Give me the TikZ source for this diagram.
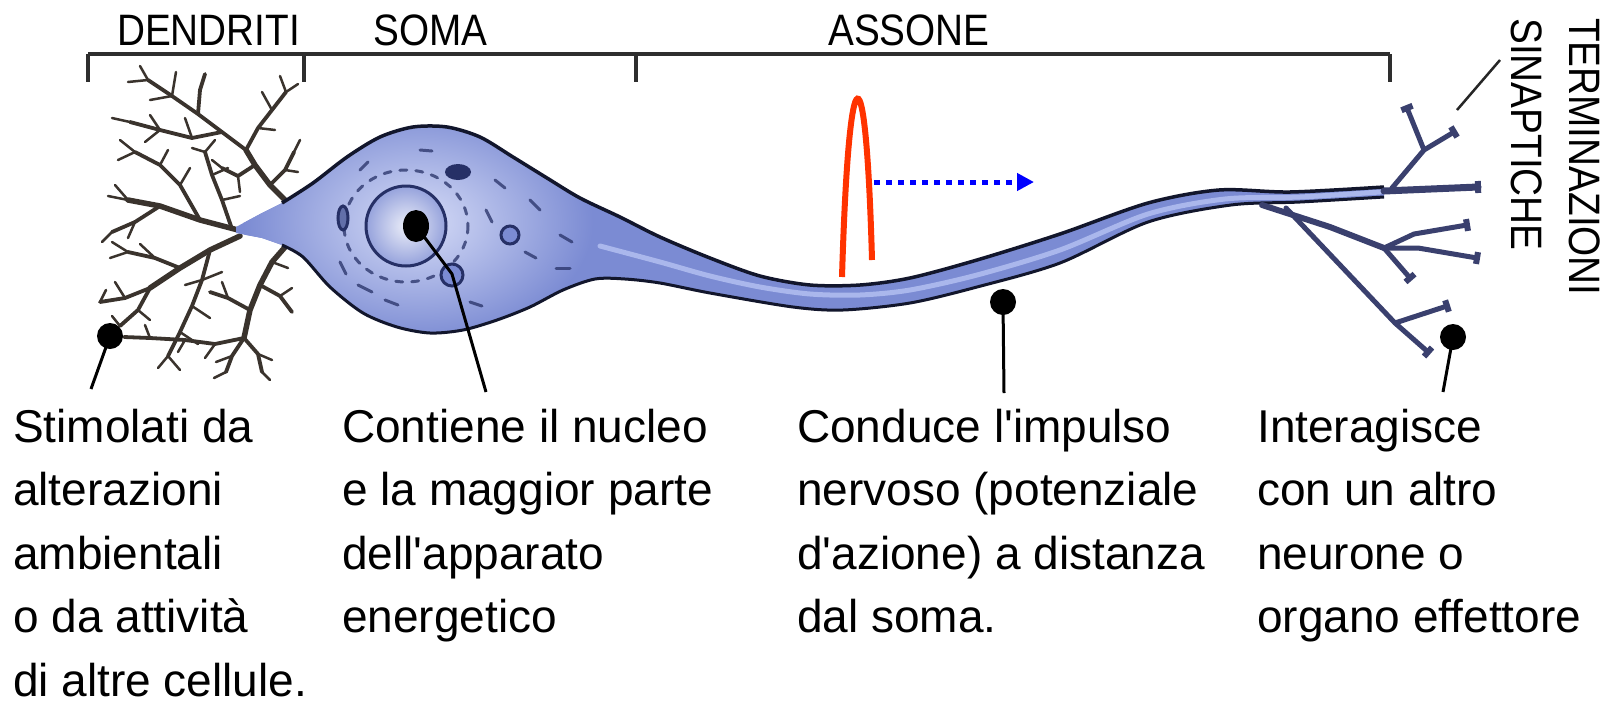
\documentclass[tikz,border=0pt]{standalone}
\usepackage{fontspec}
\setmainfont{Liberation Sans}[Ligatures=TeXOff]
\newfontfamily\headfont[FakeStretch=0.88]{Liberation Sans}
\usetikzlibrary{arrows.meta,shapes.geometric,calc}

\definecolor{somablue}{HTML}{7B8BD3}
\definecolor{somalight}{HTML}{D6DCF7}
\definecolor{cellline}{HTML}{12162C}
\definecolor{axonstripe}{HTML}{AAB7EC}
\definecolor{dendrite}{HTML}{3A332D}
\definecolor{terminal}{HTML}{3A406E}
\definecolor{organelle}{HTML}{263066}
\definecolor{spikered}{HTML}{FF3300}
\definecolor{bracketgray}{HTML}{2E2E2E}

% outline of soma and axon, one closed path
\def\cellbody{plot[smooth,tension=0.5] coordinates {(282,203) (313,183) (347,157) (380,137) (413,127) (447,127) (480,137) (513,157) (547,178) (580,198) (620,217) (660,237) (710,258) (760,276) (810,285) (860,285) (910,278) (977,260) (1060,234) (1148,203) (1219,190) (1290,192) (1384,187)}
  -- plot[smooth,tension=0.5] coordinates {(1384,197) (1300,202) (1231,205) (1148,222) (1060,263) (977,287) (910,303) (843,310) (793,307) (710,293) (660,283) (625,279) (595,279) (563,290) (530,307) (497,320) (463,330) (430,333) (397,327) (363,313) (330,287) (303,257) (282,245)}
  -- (262,238) -- (236,233) -- (236,227) -- (262,213) -- cycle}

\newcommand\termknob[2]{\draw[knob] ($(#1)!6pt!90:(#2)$) -- ($(#1)!6pt!-90:(#2)$);}

\begin{document}
\begin{tikzpicture}[x=1pt,y=-1pt,
  bodytext/.style={font=\fontsize{46}{63.5}\selectfont, align=left, inner sep=0pt, anchor=base west},
  headtext/.style={font=\headfont\fontsize{44}{44}\selectfont, inner sep=0pt, anchor=base west},
  pin/.style={circle, fill=black, inner sep=0pt, minimum size=26pt},
  nucleolus/.style={ellipse, fill=black, inner sep=0pt, minimum width=26pt, minimum height=32pt},
  pinline/.style={line width=3pt, black},
  bracket/.style={line width=4.5pt, bracketgray},
  dA/.style={dendrite, line width=5.5pt, line cap=round, line join=round},
  dB/.style={dendrite, line width=3.8pt, line cap=round, line join=round},
  dC/.style={dendrite, line width=2.5pt, line cap=round, line join=round},
  term/.style={terminal, line width=5pt, line cap=round, line join=round},
  knob/.style={terminal, line width=6pt},
  er/.style={organelle, line width=3pt, line cap=round, opacity=0.75},
]
\useasboundingbox (0,0) rectangle (1622,705);
\fill[white] (0,0) rectangle (1622,705);

% ---- header bracket ----
\coordinate (bk0) at (88,54);
\coordinate (bk1) at (304,54);
\coordinate (bk2) at (636,54);
\coordinate (bk3) at (1390,54);
\draw[bracket] (bk0) -- (bk3);
\foreach \b in {bk0,bk1,bk2,bk3} \draw[bracket] (\b) -- ++(0,28);
\node[headtext] (hdend) at (117,45) {DENDRITI};
\node[headtext] (hsoma) at (373,45) {SOMA};
\node[headtext] (hassone) at (828,45) {ASSONE};
\node[headtext, rotate=-90] (hterm) at (1569,18) {TERMINAZIONI};
\node[headtext, rotate=-90] (hsyn) at (1511,18) {SINAPTICHE};

% ---- dendritic tree ----
\draw[dA] (288,203) -- (270,185) -- (255,165) -- (246,150);
\draw[dA] (238,230) -- (200,220) -- (160,206) -- (128,200);
\draw[dA] (286,246) -- (272,262) -- (260,285) -- (250,310) -- (244,338);
\draw[dA] (240,236) -- (210,250) -- (180,268) -- (150,288);

\draw[dB] (246,150) -- (222,132) -- (198,114) -- (172,96) -- (148,80);
\draw[dB] (246,150) -- (258,128) -- (272,110) -- (286,92);
\draw[dB] (222,132) -- (192,138) -- (160,130) -- (130,122);
\draw[dB] (198,114) -- (200,90) -- (205,74);
\draw[dB] (232,229) -- (222,200) -- (212,175) -- (205,152);
\draw[dB] (200,220) -- (180,185) -- (160,165) -- (135,152);
\draw[dB] (160,206) -- (135,222) -- (112,232);
\draw[dB] (260,285) -- (280,296) -- (292,312);
\draw[dB] (250,310) -- (228,298) -- (210,292);
\draw[dB] (244,338) -- (232,356) -- (226,372);
\draw[dB] (244,338) -- (258,354) -- (262,372);
\draw[dB] (210,250) -- (202,280) -- (192,306) -- (180,332) -- (168,356);
\draw[dB] (180,268) -- (155,258) -- (128,252);
\draw[dB] (150,288) -- (125,298) -- (100,302);
\draw[dB] (150,288) -- (138,310) -- (120,326);
\draw[dB] (244,338) -- (215,344) -- (185,340) -- (150,338) -- (124,337);
\draw[dB] (255,165) -- (238,176) -- (222,168);
\draw[dB] (270,185) -- (285,170) -- (294,152);

\draw[dC] (172,96) -- (176,72);
\draw[dC] (172,96) -- (150,100);
\draw[dC] (148,80) -- (140,66);
\draw[dC] (148,80) -- (128,82);
\draw[dC] (272,110) -- (262,92);
\draw[dC] (286,92) -- (280,76);
\draw[dC] (286,92) -- (298,84);
\draw[dC] (258,128) -- (275,130);
\draw[dC] (192,138) -- (185,118);
\draw[dC] (160,130) -- (150,115);
\draw[dC] (130,122) -- (112,118);
\draw[dC] (160,130) -- (145,142);
\draw[dC] (212,175) -- (228,168);
\draw[dC] (205,152) -- (215,140);
\draw[dC] (205,152) -- (192,148);
\draw[dC] (180,185) -- (190,168);
\draw[dC] (160,165) -- (168,150);
\draw[dC] (135,152) -- (120,140);
\draw[dC] (135,152) -- (118,160);
\draw[dC] (128,200) -- (108,196);
\draw[dC] (128,200) -- (115,185);
\draw[dC] (112,232) -- (102,242);
\draw[dC] (135,222) -- (128,238);
\draw[dC] (155,258) -- (140,244);
\draw[dC] (128,252) -- (110,258);
\draw[dC] (128,252) -- (112,242);
\draw[dC] (125,298) -- (115,282);
\draw[dC] (138,310) -- (150,320);
\draw[dC] (192,306) -- (210,318);
\draw[dC] (180,332) -- (198,344);
\draw[dC] (168,356) -- (158,368);
\draw[dC] (168,356) -- (180,370);
\draw[dC] (202,280) -- (222,272);
\draw[dC] (202,280) -- (185,285);
\draw[dC] (280,296) -- (292,288);
\draw[dC] (228,298) -- (222,282);
\draw[dC] (232,356) -- (216,362);
\draw[dC] (258,354) -- (272,360);
\draw[dC] (215,344) -- (205,358);
\draw[dC] (185,340) -- (178,352);
\draw[dC] (150,338) -- (145,325);
\draw[dC] (222,200) -- (240,196);
\draw[dC] (272,262) -- (288,268);
\draw[dC] (222,168) -- (212,160);
\draw[dC] (238,176) -- (240,192);
\draw[dC] (294,152) -- (300,140);
\draw[dC] (285,170) -- (298,172);
\draw[dC] (100,302) -- (106,290);
\draw[dC] (120,326) -- (112,316);
\draw[dC] (262,372) -- (270,380);
\draw[dC] (226,372) -- (214,378);

% ---- soma and axon ----
\fill[somablue] \cellbody;
\begin{scope}
  \clip \cellbody;
  \shade[inner color=somalight, outer color=somablue] (418,222) ellipse (175 and 120);
\end{scope}
\draw[axonstripe, line width=5pt, line cap=round] plot[smooth,tension=0.5] coordinates {(600,246) (660,262) (710,276) (760,287) (810,294) (860,295) (910,290) (977,275) (1060,250) (1148,214) (1225,199) (1300,197) (1380,192)};
\draw[cellline, line width=3.5pt, line join=round] plot[smooth,tension=0.5] coordinates {(282,203) (313,183) (347,157) (380,137) (413,127) (447,127) (480,137) (513,157) (547,178) (580,198) (620,217) (660,237) (710,258) (760,276) (810,285) (860,285) (910,278) (977,260) (1060,234) (1148,203) (1219,190) (1290,192) (1384,187)};
\draw[cellline, line width=3pt, line join=round] plot[smooth,tension=0.5] coordinates {(1384,197) (1300,202) (1231,205) (1148,222) (1060,263) (977,287) (910,303) (843,310) (793,307) (710,293) (660,283) (625,279) (595,279) (563,290) (530,307) (497,320) (463,330) (430,333) (397,327) (363,313) (330,287) (303,257) (282,245)};

% endoplasmic reticulum and organelles
\draw[er, dash pattern=on 7pt off 9pt] (406,226) ellipse (62 and 56);
\draw[er] (495,180) -- (505,188);
\draw[er] (530,200) -- (540,210);
\draw[er] (486,210) -- (492,222);
\draw[er] (525,252) -- (536,258);
\draw[er] (358,285) -- (372,292);
\draw[er] (385,300) -- (398,305);
\draw[er] (340,262) -- (346,274);
\draw[er] (360,170) -- (368,162);
\draw[er] (420,150) -- (432,151);
\draw[er] (560,235) -- (572,242);
\draw[er] (556,268) -- (570,268);
\draw[er] (470,302) -- (482,306);
\shade[inner color=white!85!somablue, outer color=somablue!80!white] (406,226) circle (40);
\draw[organelle, line width=3pt] (406,226) circle (40);
\filldraw[fill=somablue!80!black, draw=organelle, line width=3pt] (343,218) ellipse (5 and 12);
\fill[organelle] (458,172) ellipse (13 and 8);
\filldraw[fill=somablue, draw=organelle, line width=3pt] (510,235) circle (9);
\filldraw[fill=somablue, draw=organelle, line width=3pt] (452,275) circle (11);

% ---- synaptic terminals ----
\coordinate (axend) at (1384,191);
\coordinate (tA0) at (1392,188);
\coordinate (tA1) at (1424,150);
\coordinate (tA2) at (1407,108);
\coordinate (tA3) at (1454,132);
\coordinate (tM) at (1478,187);
\coordinate (tB0) at (1262,205);
\coordinate (tBm) at (1330,227);
\coordinate (tB1) at (1384,248);
\coordinate (tB2) at (1414,234);
\coordinate (tB3) at (1467,225);
\coordinate (tB4) at (1418,248);
\coordinate (tB5) at (1477,258);
\coordinate (tB6) at (1410,278);
\coordinate (tC0) at (1286,208);
\coordinate (tC1) at (1395,323);
\coordinate (tC2) at (1447,306);
\coordinate (tC3) at (1428,352);
\draw[term, line width=7pt] (axend) -- (tM);
\draw[term] (tA0) -- (tA1) -- (tA2);
\draw[term] (tA1) -- (tA3);
\draw[term, line width=6pt] (tB0) -- (tBm) -- (tB1);
\draw[term] (tB1) -- (tB2) -- (tB3);
\draw[term] (tB1) -- (tB4) -- (tB5);
\draw[term] (tB1) -- (tB6);
\draw[term] (tC0) -- (tC1) -- (tC2);
\draw[term] (tC1) -- (tC3);
\termknob{tA2}{tA1}
\termknob{tA3}{tA1}
\termknob{tM}{axend}
\termknob{tB3}{tB2}
\termknob{tB5}{tB4}
\termknob{tB6}{tB1}
\termknob{tC2}{tC1}
\termknob{tC3}{tC1}

% ---- action potential travelling along the axon ----
\coordinate (spikeL) at (842,277);
\coordinate (spikeR) at (872,260);
\draw[spikered, line width=6pt] (spikeL) .. controls (849,42) and (866,42) .. (spikeR);
\coordinate (wavestart) at (874,182);
\coordinate (waveend) at (1034,182);
\draw[blue, line width=5pt, dash pattern=on 6pt off 6pt, -{Triangle[length=17pt,width=17pt]}] (wavestart) -- (waveend);

% ---- pointers ----
\node[pin] (dendpin) at (110,336) {};
\coordinate (dendend) at (91,389);
\draw[pinline] (dendpin.center) -- (dendend);
\node[nucleolus] (nucleolus) at (416,226) {};
\coordinate (nucbend) at (452,274);
\coordinate (nucend) at (486,392);
\draw[pinline] (nucleolus.center) -- (nucbend) -- (nucend);
\node[pin] (axonpin) at (1003,302) {};
\coordinate (axonend) at (1004,393);
\draw[pinline] (axonpin.center) -- (axonend);
\node[pin] (termpin) at (1453,337) {};
\coordinate (termend) at (1443,392);
\draw[pinline] (termpin.center) -- (termend);
\coordinate (synA) at (1500,60);
\coordinate (synB) at (1457,110);
\draw[line width=2.5pt, black!85] (synA) -- (synB);

% ---- captions (anchored at the baseline of their last line) ----
\node[bodytext] (capdend) at (13,696) {Stimolati da\\alterazioni\\ambientali\\o da attività\\di altre cellule.};
\node[bodytext] (capsoma) at (342,632.5) {Contiene il nucleo\\e la maggior parte\\dell'apparato\\energetico};
\node[bodytext] (capaxon) at (797,632.5) {Conduce l'impulso\\nervoso (potenziale\\d'azione) a distanza\\dal soma.};
\node[bodytext] (capterm) at (1257,632.5) {Interagisce\\con un altro\\neurone o\\organo effettore};
\end{tikzpicture}
\end{document}
